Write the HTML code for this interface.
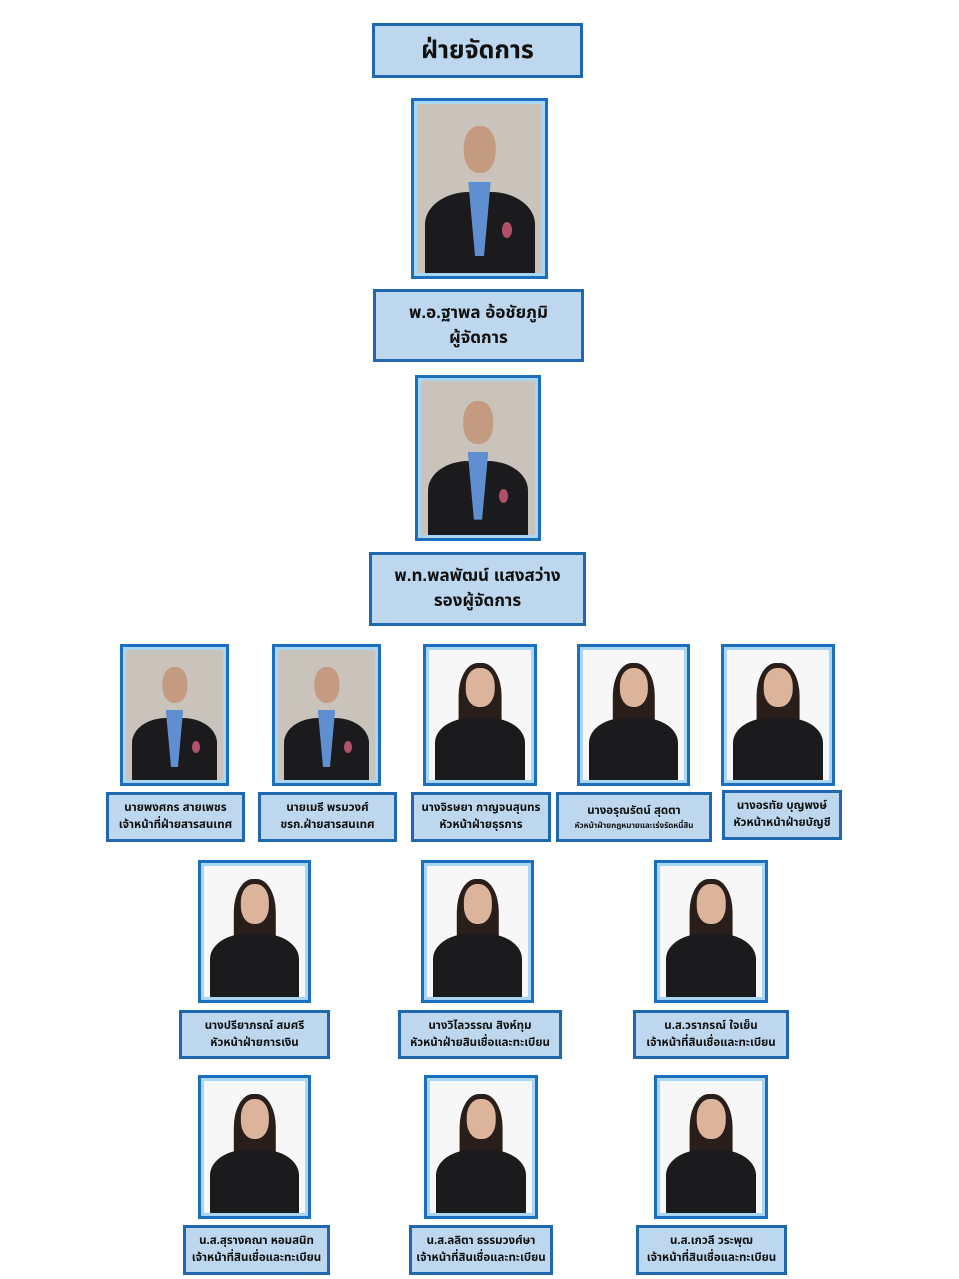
<!DOCTYPE html>
<html><head><meta charset="utf-8"><style>
body{margin:0;background:#fff;width:959px;height:1279px;position:relative;overflow:hidden;font-family:"Liberation Sans","Noto Sans Thai","Tlwg Typo",sans-serif}
.p{position:absolute;box-sizing:border-box;border:3px solid #1c6fbf;padding:3px;background:#a9d6f3}
.i{position:relative;width:100%;height:100%;overflow:hidden;background:#f7f7f7}
.m .i{background:#c9c3bb}
.hair{position:absolute;left:50%;top:10%;width:42%;height:56%;transform:translateX(-50%);background:#2a1e1a;border-radius:45% 45% 15% 15%}
.hd{position:absolute;left:50%;top:14%;width:28%;height:30%;transform:translateX(-50%);background:#dcb49c;border-radius:45%}
.m .hd{background:#c49a80;width:26%;height:28%;top:13%}
.bd{position:absolute;left:6%;right:6%;top:52%;bottom:0;background:#1b1b1d;border-radius:40% 40% 0 0}
.sh{position:absolute;left:41%;width:18%;top:46%;bottom:10%;background:#5f8fd0;clip-path:polygon(0 0,100% 0,70% 100%,30% 100%)}
.bg{position:absolute;left:68%;top:70%;width:8%;height:9%;border-radius:50%;background:#b0506a}
.l{position:absolute;box-sizing:border-box;border:3px solid #1f68ad;background:#bdd7ee;text-align:center;color:#111;font-weight:bold;display:flex;flex-direction:column;justify-content:center;line-height:1.45}
.s{font-size:11.5px}
</style></head><body>

<div class="l" style="left:372px;top:23px;width:211px;height:55px;font-size:25px">ฝ่ายจัดการ</div>

<div class="p m" style="left:411px;top:98px;width:137px;height:181px"><div class="i"><div class="hd"></div><div class="bd"></div><div class="sh"></div><div class="bg"></div></div></div>
<div class="l" style="left:373px;top:289px;width:211px;height:73px;font-size:17px">พ.อ.ฐาพล อ้อชัยภูมิ<br>ผู้จัดการ</div>

<div class="p m" style="left:415px;top:375px;width:126px;height:166px"><div class="i"><div class="hd"></div><div class="bd"></div><div class="sh"></div><div class="bg"></div></div></div>
<div class="l" style="left:369px;top:552px;width:217px;height:74px;font-size:17px">พ.ท.พลพัฒน์ แสงสว่าง<br>รองผู้จัดการ</div>

<!-- row 1 -->
<div class="p m" style="left:120px;top:644px;width:109px;height:142px"><div class="i"><div class="hd"></div><div class="bd"></div><div class="sh"></div><div class="bg"></div></div></div>
<div class="p m" style="left:272px;top:644px;width:109px;height:142px"><div class="i"><div class="hd"></div><div class="bd"></div><div class="sh"></div><div class="bg"></div></div></div>
<div class="p" style="left:423px;top:644px;width:114px;height:142px"><div class="i"><div class="hair"></div><div class="hd"></div><div class="bd"></div></div></div>
<div class="p" style="left:577px;top:644px;width:113px;height:142px"><div class="i"><div class="hair"></div><div class="hd"></div><div class="bd"></div></div></div>
<div class="p" style="left:721px;top:644px;width:114px;height:142px"><div class="i"><div class="hair"></div><div class="hd"></div><div class="bd"></div></div></div>

<div class="l s" style="left:106px;top:792px;width:139px;height:50px">นายพงศกร สายเพชร<br>เจ้าหน้าที่ฝ่ายสารสนเทศ</div>
<div class="l s" style="left:258px;top:792px;width:139px;height:50px">นายเมธี พรมวงศ์<br>ขรก.ฝ่ายสารสนเทศ</div>
<div class="l s" style="left:411px;top:792px;width:140px;height:50px">นางจิรษยา กาญจนสุนทร<br>หัวหน้าฝ่ายธุรการ</div>
<div class="l s" style="left:556px;top:792px;width:156px;height:50px">นางอรุณรัตน์ สุดตา<br><span style="font-size:8px">หัวหน้าฝ่ายกฎหมายและเร่งรัดหนี้สิน</span></div>
<div class="l s" style="left:722px;top:790px;width:120px;height:50px">นางอรทัย บุญพงษ์<br>หัวหน้าหน้าฝ่ายบัญชี</div>

<!-- row 2 -->
<div class="p" style="left:198px;top:860px;width:113px;height:143px"><div class="i"><div class="hair"></div><div class="hd"></div><div class="bd"></div></div></div>
<div class="p" style="left:421px;top:860px;width:113px;height:143px"><div class="i"><div class="hair"></div><div class="hd"></div><div class="bd"></div></div></div>
<div class="p" style="left:654px;top:860px;width:114px;height:143px"><div class="i"><div class="hair"></div><div class="hd"></div><div class="bd"></div></div></div>

<div class="l s" style="left:179px;top:1010px;width:151px;height:49px">นางปรียาภรณ์ สมศรี<br>หัวหน้าฝ่ายการเงิน</div>
<div class="l s" style="left:398px;top:1010px;width:164px;height:49px">นางวิไลวรรณ สิงห์ทุม<br>หัวหน้าฝ่ายสินเชื่อและทะเบียน</div>
<div class="l s" style="left:633px;top:1010px;width:156px;height:49px">น.ส.วราภรณ์ ใจเย็น<br>เจ้าหน้าที่สินเชื่อและทะเบียน</div>

<!-- row 3 -->
<div class="p" style="left:198px;top:1075px;width:113px;height:144px"><div class="i"><div class="hair"></div><div class="hd"></div><div class="bd"></div></div></div>
<div class="p" style="left:424px;top:1075px;width:114px;height:144px"><div class="i"><div class="hair"></div><div class="hd"></div><div class="bd"></div></div></div>
<div class="p" style="left:654px;top:1075px;width:114px;height:144px"><div class="i"><div class="hair"></div><div class="hd"></div><div class="bd"></div></div></div>

<div class="l s" style="left:183px;top:1225px;width:147px;height:50px">น.ส.สุรางคณา หอมสนิท<br>เจ้าหน้าที่สินเชื่อและทะเบียน</div>
<div class="l s" style="left:409px;top:1225px;width:144px;height:50px">น.ส.ลลิตา ธรรมวงศ์ษา<br>เจ้าหน้าที่สินเชื่อและทะเบียน</div>
<div class="l s" style="left:636px;top:1225px;width:151px;height:50px">น.ส.เกวลี วระพุฒ<br>เจ้าหน้าที่สินเชื่อและทะเบียน</div>

</body></html>
